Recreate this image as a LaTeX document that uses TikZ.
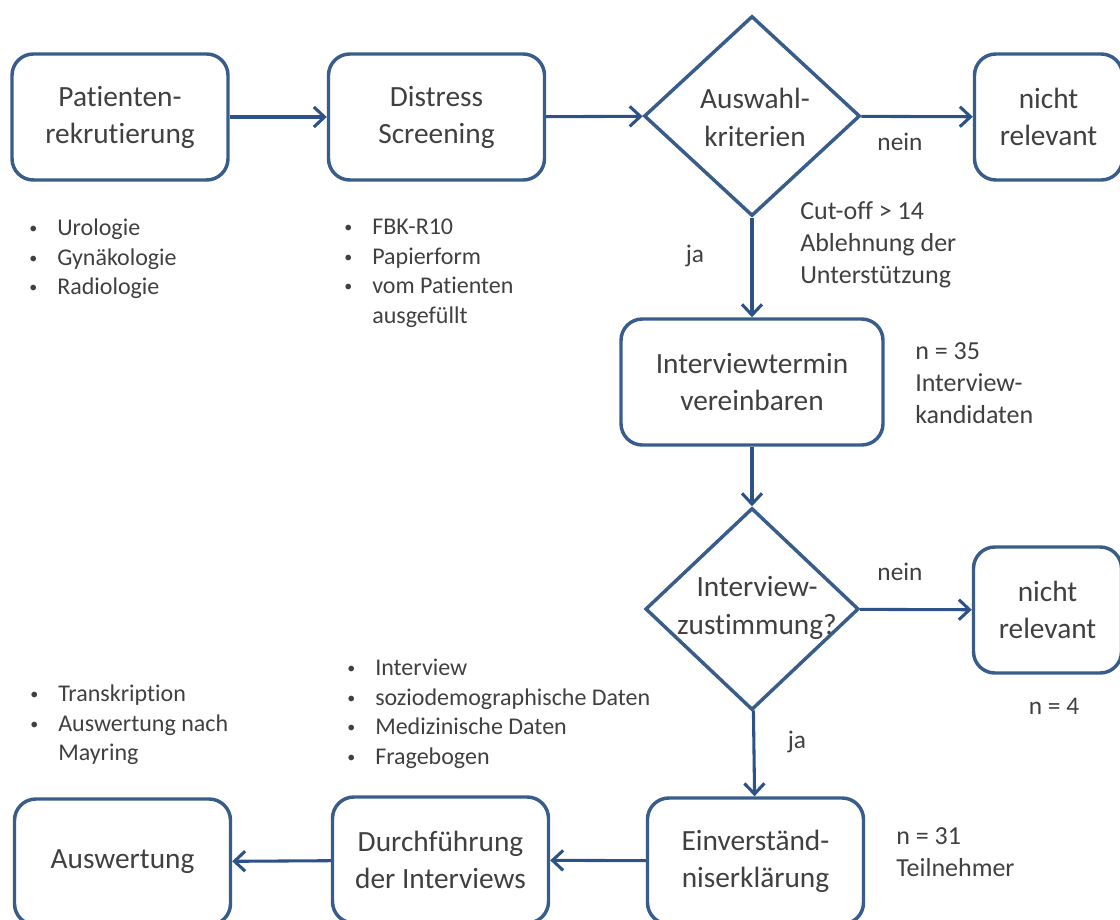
\documentclass[tikz,border=0pt]{standalone}
\usepackage{fontspec}
\setmainfont{Carlito}[Ligatures=NoCommon]
\usepackage{tikz}
\usetikzlibrary{arrows.meta,shapes.geometric,positioning}
\definecolor{rahmen}{HTML}{385D8A}
\definecolor{pfeil}{HTML}{2C5287}
\definecolor{schrift}{HTML}{404040}
\newcommand{\pkt}{\makebox[21pt][l]{\raisebox{1.6pt}{\fontsize{12}{12}\selectfont\textbullet}}}
\newcommand{\weiter}{\hspace*{21pt}}

\begin{document}
\begin{tikzpicture}[x=0.75pt,y=-0.75pt,>={Straight Barb[length=8pt,width=15pt]},
  every node/.style={text=schrift,inner sep=0pt},
  kasten/.style={rectangle,rounded corners=16pt,draw=rahmen,line width=2.6pt,align=center,
    font=\fontsize{22}{27.75}\selectfont,minimum height=94.5pt,minimum width=162pt},
  raute/.style={diamond,draw=rahmen,line width=2.6pt,minimum width=162pt,minimum height=150pt},
  rautentext/.style={align=center,font=\fontsize{22}{28.5}\selectfont},
  liste/.style={anchor=north west,align=left,font=\fontsize{18}{22.1}\selectfont},
  notiz/.style={anchor=north west,align=left,font=\fontsize{19.5}{24}\selectfont},
  antwort/.style={font=\fontsize{19}{23}\selectfont},
  fluss/.style={->,draw=pfeil,line width=2.3pt}]

\useasboundingbox (0,0) rectangle (1120,920);

% obere Reihe
\node[kasten] (rekrut) at (120,117) {Patienten-\\rekrutierung};
\node[kasten] (screening) at (436.5,117) {Distress\\Screening};
\node[raute] (auswahl) at (752,116) {};
\node[rautentext] (auswahltext) at (755,117) {Auswahl-\\kriterien};
\node[kasten,minimum width=111pt] (irrel1) at (1048.5,117) {nicht\\relevant};

% rechte Spalte
\node[kasten,minimum width=196.5pt] (termin) at (752,382) {Interviewtermin\\vereinbaren};
\node[raute,minimum width=160pt,minimum height=151.5pt] (zustimmung) at (752,609) {};
\node[rautentext] (zustimmungtext) at (757,608) {Interview-\\zustimmung?};
\node[kasten,minimum width=111pt] (irrel2) at (1047.5,610) {nicht\\relevant};

% untere Reihe
\node[kasten] (einverst) at (755.5,861) {Einverständ-\\niserklärung};
\node[kasten] (durchf) at (440.5,860) {Durchführung\\der Interviews};
\node[kasten] (auswert) at (122.5,862) {Auswertung};

% Aufzählungen und Zahlen
\node[liste] (l1) at (29,219) {\pkt Urologie\\\pkt Gynäkologie\\\pkt Radiologie};
\node[liste] (l2) at (344,219) {\pkt FBK-R10\\\pkt Papierform\\\pkt vom Patienten\\\weiter ausgefüllt};
\node[liste] (l3) at (30,685) {\pkt Transkription\\\pkt Auswertung nach\\\weiter Mayring};
\node[liste] (l4) at (347,659) {\pkt Interview\\\pkt soziodemographische Daten\\\pkt Medizinische Daten\\\pkt Fragebogen};
\node[notiz] (kriterien) at (800,201) {Cut-off > 14\\Ablehnung der\\Unterstützung};
\node[notiz] (n35) at (915,342) {n = 35\\Interview-\\kandidaten};
\node[notiz] (n31) at (896,827) {n = 31\\Teilnehmer};
\node[antwort] (n4) at (1054,706) {n = 4};

\node[antwort] (nein1) at (900,142) {nein};
\node[antwort] (ja1) at (695,256) {ja};
\node[antwort] (nein2) at (900,572) {nein};
\node[antwort] (ja2) at (797,742) {ja};

\path
(rekrut) edge[fluss] (screening)
(screening) edge[fluss] (auswahl)
(auswahl) edge[fluss] (irrel1)
(auswahl) edge[fluss] (termin)
(termin) edge[fluss] (zustimmung)
(zustimmung) edge[fluss] (irrel2)
(zustimmung) edge[fluss] (einverst)
(einverst) edge[fluss] (durchf)
(durchf) edge[fluss] (auswert);
\end{tikzpicture}
\end{document}
